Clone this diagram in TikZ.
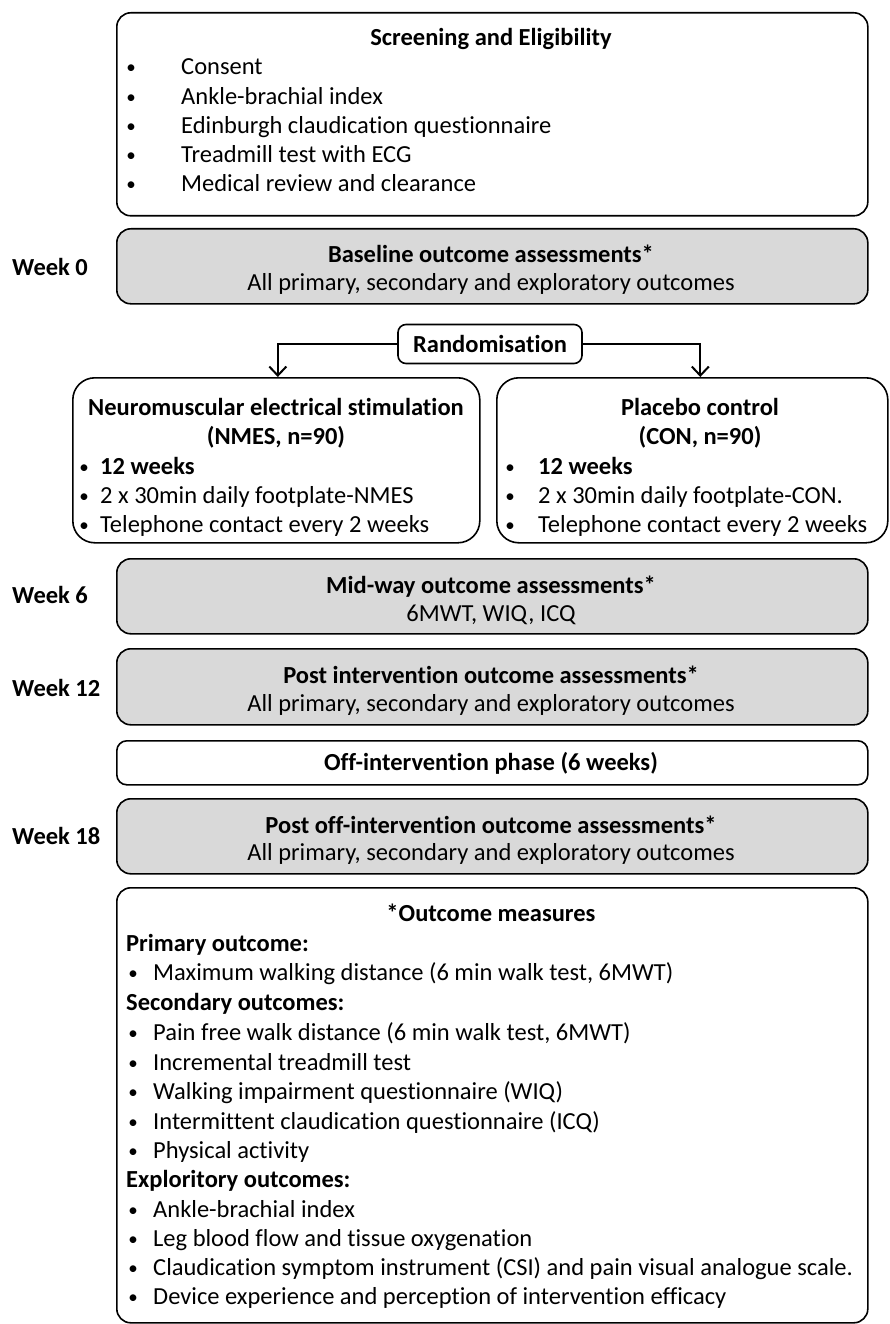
\documentclass[tikz,border=0pt]{standalone}
\usepackage{fontspec}
\setmainfont{Carlito}[Ligatures={NoCommon}]
\usetikzlibrary{arrows.meta}
\definecolor{boxgrey}{HTML}{D9D9D9}
\begin{document}
\begin{tikzpicture}[x=1pt,y=-1pt,
  box/.style={draw, line width=1.6pt, rounded corners=14pt, inner sep=0pt, anchor=north west},
  greybox/.style={box, fill=boxgrey},
  txt/.style={font=\fontsize{24.5}{29}\selectfont, inner sep=0pt, anchor=base},
  ltxt/.style={txt, anchor=base west},
  btxt/.style={txt, font=\fontsize{24.5}{29}\selectfont\bfseries},
  bltxt/.style={ltxt, font=\fontsize{24.5}{29}\selectfont\bfseries},
  bul/.style={font=\fontsize{19}{29}\selectfont, inner sep=0pt, anchor=base},
  arr/.style={line width=2pt, -{Straight Barb[length=9pt,width=17pt,line width=2pt]}}
]
\useasboundingbox (0,0) rectangle (889,1324);

% Screening box
\node[box, minimum width=751pt, minimum height=203pt] (screen) at (116,12) {};
\node[btxt] (screenT) at (491,46) {Screening and Eligibility};
\foreach \yy/\t [count=\i] in {75/Consent, 105/Ankle-brachial index, 134/Edinburgh claudication questionnaire, 163/Treadmill test with ECG, 192/Medical review and clearance}{
  \node[bul] (sb\i) at (131,\yy-1) {•};
  \node[ltxt] (si\i) at (181,\yy) {\t};
}

% Baseline
\node[greybox, minimum width=751pt, minimum height=75pt] (base) at (116,228) {};
\node[btxt] (baseT) at (491,262) {Baseline outcome assessments*};
\node[txt] (baseS) at (491,290) {All primary, secondary and exploratory outcomes};
\node[bltxt] (w0) at (12,276) {Week 0};

% Randomisation
\node[draw, line width=1.6pt, rounded corners=8pt, minimum width=184pt, minimum height=39pt, inner sep=0pt, font=\fontsize{24.5}{29}\selectfont\bfseries] (rand) at (490,344) {Randomisation};

% NMES
\node[box, rounded corners=22pt, minimum width=407pt, minimum height=165pt] (nmes) at (72,377) {};
\node[btxt] (nmesT1) at (276,415) {Neuromuscular electrical stimulation};
\node[btxt] (nmesT2) at (276,444) {(NMES, n=90)};
\node[bul] (nb1) at (84,473) {•};
\node[bltxt] (ni1) at (100,474) {12 weeks};
\node[bul] (nb2) at (84,502) {•};
\node[ltxt] (ni2) at (100,503) {2 x 30min daily footplate-NMES};
\node[bul] (nb3) at (84,531) {•};
\node[ltxt] (ni3) at (100,532) {Telephone contact every 2 weeks};

% CON
\node[box, rounded corners=22pt, minimum width=391pt, minimum height=165pt] (con) at (496,377) {};
\node[btxt] (conT1) at (700,415) {Placebo control};
\node[btxt] (conT2) at (700,444) {(CON, n=90)};
\node[bul] (cb1) at (510,473) {•};
\node[bltxt] (ci1) at (538,474) {12 weeks};
\node[bul] (cb2) at (510,502) {•};
\node[ltxt] (ci2) at (538,503) {2 x 30min daily footplate-CON.};
\node[bul] (cb3) at (510,531) {•};
\node[ltxt] (ci3) at (538,532) {Telephone contact every 2 weeks};

\draw[arr] (rand.west) -| ([xshift=1.5pt]nmes.north);
\draw[arr] (rand.east) -| ([xshift=8pt]con.north);

% Week 6
\node[greybox, minimum width=751pt, minimum height=75pt] (mid) at (116,558) {};
\node[btxt] (midT) at (491,593) {Mid-way outcome assessments*};
\node[txt] (midS) at (491,621) {6MWT, WIQ, ICQ};
\node[bltxt] (w6) at (12,603) {Week 6};

% Week 12
\node[greybox, minimum width=751pt, minimum height=76pt] (post) at (116,648) {};
\node[btxt] (postT) at (491,683) {Post intervention outcome assessments*};
\node[txt] (postS) at (491,711) {All primary, secondary and exploratory outcomes};
\node[bltxt] (w12) at (12,696) {Week 12};

% Off intervention
\node[box, rounded corners=10pt, minimum width=751pt, minimum height=44pt] (off) at (116,740) {};
\node[btxt] (offT) at (491,770) {Off-intervention phase (6 weeks)};

% Week 18
\node[greybox, minimum width=751pt, minimum height=75pt] (poff) at (116,798) {};
\node[btxt] (poffT) at (491,833) {Post off-intervention outcome assessments*};
\node[txt] (poffS) at (491,860) {All primary, secondary and exploratory outcomes};
\node[bltxt] (w18) at (12,844) {Week 18};

% Outcome measures
\node[box, minimum width=751pt, minimum height=435pt] (om) at (116,887) {};
\node[btxt] (omT) at (491,921) {*Outcome measures};
\node[bltxt] (omP) at (126,951) {Primary outcome:};
\node[bltxt] (omS) at (126,1010) {Secondary outcomes:};
\node[bltxt] (omE) at (126,1187) {Exploritory outcomes:};
\foreach \yy/\t [count=\i] in {980/Maximum walking distance (6 min walk test{,} 6MWT),
  1040/Pain free walk distance (6 min walk test{,} 6MWT),
  1070/Incremental treadmill test,
  1099/Walking impairment questionnaire (WIQ),
  1129/Intermittent claudication questionnaire (ICQ),
  1158/Physical activity,
  1217/Ankle-brachial index,
  1246/Leg blood flow and tissue oxygenation,
  1275/Claudication symptom instrument (CSI) and pain visual analogue scale.,
  1304/Device experience and perception of intervention efficacy}{
  \node[bul] (ob\i) at (133,\yy-1) {•};
  \node[ltxt] (oi\i) at (153,\yy) {\t};
}
\end{tikzpicture}
\end{document}
